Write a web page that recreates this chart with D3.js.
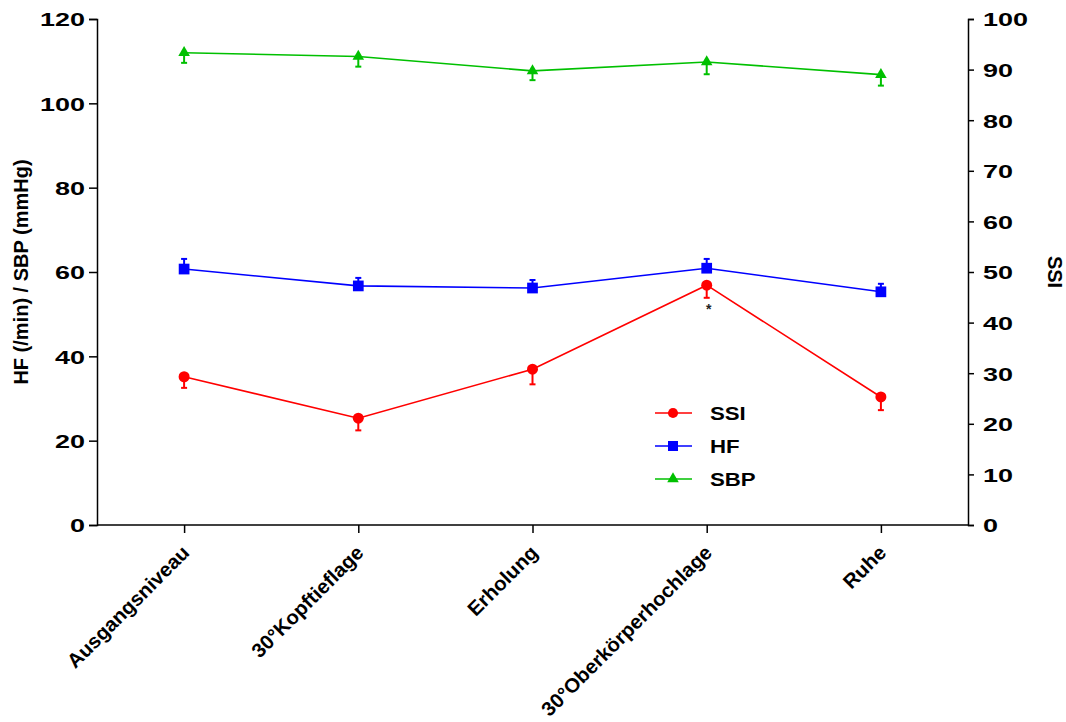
<!DOCTYPE html>
<html><head><meta charset="utf-8">
<script src="https://cdn.jsdelivr.net/npm/d3@7"></script>
<style>body{margin:0;background:#fff}svg{display:block}text{font-family:"Liberation Sans",Arial,sans-serif;font-weight:bold}</style>
</head><body><svg id="c" width="1066" height="722"></svg>
<script>
const categories = ["Ausgangsniveau","30°Kopftieflage","Erholung","30°Oberkörperhochlage","Ruhe"];
const ssiValues = [29.3, 21.1, 30.8, 47.4, 25.3];
const ssiErr = [2.2, 2.4, 3.0, 2.5, 2.6];
const hfValues = [60.7, 56.7, 56.2, 60.9, 55.3];
const hfErr = [2.4, 1.9, 1.9, 2.2, 1.9];
const sbpValues = [112.0, 111.1, 107.7, 109.8, 106.8];
const sbpErr = [2.4, 2.4, 2.2, 2.9, 2.6];
const leftTicks = [0,20,40,60,80,100,120];
const rightTicks = [0,10,20,30,40,50,60,70,80,90,100];
const leftTitle = "HF (/min) / SBP (mmHg)";
const rightTitle = "SSI";
const legendNames = ["SSI","HF","SBP"];

const svg = d3.select("#c");
const L = 97, R = 968, T = 19, B = 525;
const x = d3.scalePoint().domain(categories).range([L, R]).padding(0.5);
const yL = d3.scaleLinear().domain([0,120]).range([B, T]);
const yR = d3.scaleLinear().domain([0,100]).range([B, T]);

function styleAxis(g){
  g.selectAll("path,line").attr("stroke","#000").attr("stroke-width",1.5);
  g.selectAll("text").attr("fill","#000").style("font-size","19px");
}
svg.append("g").attr("transform",`translate(${L},0)`)
  .call(d3.axisLeft(yL).tickValues(leftTicks).tickSizeOuter(0).tickSize(8).tickPadding(4))
  .call(styleAxis)
  .call(g => g.selectAll(".tick text").attr("x",0).attr("dy","0.36em")
    .attr("transform","translate(-12,0) scale(1.42,1)"));
svg.append("g").attr("transform",`translate(${R},0)`)
  .call(d3.axisRight(yR).tickValues(rightTicks).tickSizeOuter(0).tickSize(6).tickPadding(10))
  .call(styleAxis)
  .call(g => g.selectAll(".tick text").attr("x",0).attr("dy","0.36em")
    .attr("transform","translate(15,0) scale(1.42,1)"));
const xg = svg.append("g").attr("transform",`translate(0,${B})`)
  .call(d3.axisBottom(x).tickSizeOuter(0).tickSize(8).tickPadding(0))
  .call(styleAxis);
xg.select(".domain").attr("d",`M${L},0H${R}`);
xg.selectAll(".tick text").attr("text-anchor","end").attr("x",0).attr("y",0).attr("dy",0)
  .style("font-size","20px")
  .attr("transform","translate(6,29) rotate(-45) scale(1.02,1)");

svg.append("text").attr("transform",`translate(28,${(T+B)/2}) rotate(-90)`)
  .attr("text-anchor","middle").style("font-size","20px").text(leftTitle);
svg.append("text").attr("transform",`translate(1048,${(T+B)/2}) rotate(90)`)
  .attr("text-anchor","middle").style("font-size","20px").text(rightTitle);

const series = [
  {vals: ssiValues, err: ssiErr, y: yR, color: "#ff0000", sym: d3.symbolCircle, size: 95, lsize: 80, dir: -1},
  {vals: hfValues, err: hfErr, y: yL, color: "#0000ff", sym: d3.symbolSquare, size: 115, lsize: 100, dir: 1},
  {vals: sbpValues, err: sbpErr, y: yL, color: "#00c000", sym: d3.symbolTriangle, size: 58, lsize: 58, dir: -1}
];
series.forEach(s => {
  const g = svg.append("g");
  const line = d3.line().x((d,i)=>x(categories[i])).y(d=>s.y(d));
  g.append("path").datum(s.vals).attr("d",line).attr("fill","none")
    .attr("stroke",s.color).attr("stroke-width",1.6);
  s.vals.forEach((v,i)=>{
    const cx = x(categories[i]), cy = s.y(v), ey = s.y(v + s.dir*s.err[i]);
    g.append("line").attr("x1",cx).attr("x2",cx).attr("y1",cy).attr("y2",ey)
      .attr("stroke",s.color).attr("stroke-width",2);
    g.append("line").attr("x1",cx-3).attr("x2",cx+3).attr("y1",ey).attr("y2",ey)
      .attr("stroke",s.color).attr("stroke-width",2);
    g.append("path").attr("d",d3.symbol(s.sym, s.size)()).attr("transform",`translate(${cx},${cy})`)
      .attr("fill",s.color);
  });
});
// significance marker
svg.append("text").attr("x",x(categories[3])+2).attr("y",yR(ssiValues[3]-ssiErr[3])+16)
  .attr("text-anchor","middle").style("font-size","14px").attr("fill","#222").text("*");

// legend
const lg = svg.append("g");
series.forEach((s,i)=>{
  const ly = 413 + i*33;
  lg.append("line").attr("x1",655).attr("x2",692).attr("y1",ly).attr("y2",ly)
    .attr("stroke",s.color).attr("stroke-width",1.5);
  lg.append("path").attr("d",d3.symbol(s.sym, s.lsize)())
    .attr("transform",`translate(673,${ly})`).attr("fill",s.color);
  lg.append("text").attr("transform",`translate(710,${ly+7}) scale(1.17,1)`)
    .style("font-size","19px").text(legendNames[i]);
});
</script></body></html>
